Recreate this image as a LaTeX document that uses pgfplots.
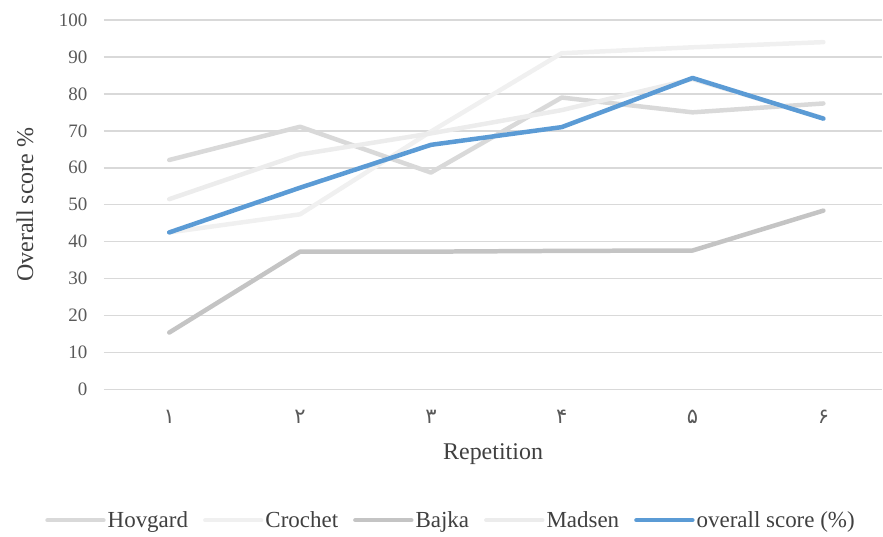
\documentclass[border=0pt]{standalone}
\usepackage{fontspec}
\setmainfont{Liberation Serif}
\newfontfamily\fa[Script=Arabic]{DejaVu Sans}
\usepackage{pgfplots}
\pgfplotsset{compat=1.18}
\definecolor{hov}{HTML}{D9D9D9}
\definecolor{cro}{HTML}{F0F0F0}
\definecolor{baj}{HTML}{C4C4C4}
\definecolor{mad}{HTML}{ECECEC}
\definecolor{ovr}{HTML}{5B9BD5}
\definecolor{gridc}{HTML}{D9D9D9}
\definecolor{txt}{HTML}{404040}
\definecolor{tick}{HTML}{595959}
\begin{document}
\begin{tikzpicture}
\begin{axis}[
scale only axis,
width=779.5pt, height=370pt,
xmin=0.5, xmax=6.45,
ymin=0, ymax=100,
ytick={0,10,...,100},
xtick={1,2,3,4,5,6},
xticklabels={{\fa ۱},{\fa ۲},{\fa ۳},{\fa ۴},{\fa ۵},{\fa ۶}},
/pgf/number format/assume math mode=true,
ymajorgrids,
major grid style={gridc, line width=1.5pt},
axis line style={draw=none},
major tick length=0pt,
tick label style={text=tick},
yticklabel style={font=\fontsize{19}{21}\selectfont, anchor=east, xshift=-13pt},
xticklabel style={font=\fontsize{21}{23}\selectfont, yshift=-17pt},
every axis x label/.style={at={(axis description cs:0.5,-0.1757)}, anchor=center},
every axis y label/.style={at={(axis description cs:-0.1013,0.5)}, rotate=90, anchor=center},
label style={font=\fontsize{24}{26}\selectfont, text=txt},
xlabel={Repetition},
ylabel={Overall score \%},
legend style={draw=none, fill=none, at={(axis description cs:0.446,-0.354)}, anchor=center,
  font=\fontsize{23}{25}\selectfont, text=txt,
  /tikz/every even column/.append style={column sep=13pt}},
legend columns=5,
legend image code/.code={\draw[#1] (0pt,0pt) -- (56pt,0pt);},
every axis plot/.append style={line width=4.5pt, line cap=round, line join=round},
]
\addplot[hov] coordinates {(1,62.1) (2,71.1) (3,58.7) (4,79.0) (5,75.0) (6,77.4)};
\addlegendentry{Hovgard}
\addplot[cro] coordinates {(1,42.5) (2,47.4) (3,69.8) (4,91.0) (5,92.6) (6,94.0)};
\addlegendentry{Crochet}
\addplot[baj] coordinates {(1,15.4) (2,37.3) (3,37.3) (4,37.5) (5,37.6) (6,48.4)};
\addlegendentry{Bajka}
\addplot[mad] coordinates {(1,51.5) (2,63.6) (3,69.3) (4,75.6) (5,84.0) (6,73.4)};
\addlegendentry{Madsen}
\addplot[ovr] coordinates {(1,42.5) (2,54.6) (3,66.2) (4,71.0) (5,84.3) (6,73.3)};
\addlegendentry{overall score (\%)}
\end{axis}
\path ([xshift=-104pt,yshift=-147pt]current axis.south west) ([yshift=20pt]current axis.north east);
\end{tikzpicture}
\end{document}
